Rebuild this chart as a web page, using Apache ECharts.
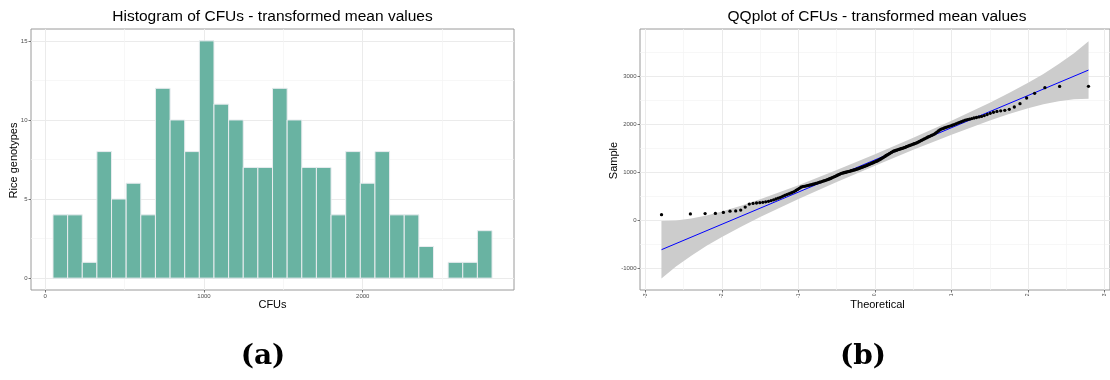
<!DOCTYPE html>
<html>
<head>
<meta charset="utf-8">
<script src="https://cdn.jsdelivr.net/npm/echarts@6/dist/echarts.min.js"></script>
<style>
  html, body { margin: 0; padding: 0; background: #ffffff; }
  #chart { width: 1110px; height: 380px; }
</style>
</head>
<body>
<div id="chart"></div>
<script>
// ---------- Histogram of transformed mean CFU values (30 equal-width bins) ----------
const histBinStart = 48.6;
const histBinWidth = 92.2;
const histCounts = [4, 4, 1, 8, 5, 6, 4, 12, 10, 8, 15, 11, 10, 7, 7, 12, 10, 7, 7, 4, 8, 6, 8, 4, 4, 2, 0, 1, 1, 3];
const histXTicks = [0, 1000, 2000];
const histXMinor = [500, 1500, 2500];
const histYTicks = [0, 5, 10, 15];
const histYMinor = [2.5, 7.5, 12.5];

// ---------- QQ plot: sorted sample of the same 189 genotypes ----------
const sampleValues = [
  112, 128, 134, 138,
  158, 184, 190, 208,
  270,
  333, 346, 355, 362, 370, 379, 391, 405,
  421, 438, 456, 473, 494,
  514, 531, 545, 561, 578, 594,
  616, 639, 661, 684,
  697, 703, 709, 717, 724, 731, 738, 746, 755, 763, 771, 781,
  790, 798, 807, 815, 823, 833, 842, 852, 861, 872,
  885, 896, 906, 917, 929, 941, 952, 964,
  974, 979, 986, 992, 997, 1004, 1010, 1015, 1022, 1028, 1033, 1040, 1046, 1052, 1059,
  1067, 1074, 1083, 1091, 1099, 1106, 1115, 1123, 1132, 1140, 1149,
  1160, 1168, 1178, 1187, 1195, 1205, 1214, 1222, 1232, 1241,
  1255, 1267, 1279, 1292, 1304, 1318, 1331,
  1346, 1358, 1372, 1385, 1397, 1411, 1424,
  1436, 1443, 1451, 1457, 1465, 1473, 1480, 1487, 1495, 1502, 1509, 1517,
  1529, 1538, 1546, 1556, 1565, 1573, 1583, 1592, 1601, 1610,
  1622, 1634, 1648, 1661, 1673, 1687, 1700,
  1714, 1727, 1740, 1752, 1766, 1779, 1791,
  1813, 1836, 1858, 1880,
  1898, 1909, 1921, 1932, 1943, 1955, 1966, 1978,
  1992, 2006, 2022, 2037, 2051, 2067,
  2083, 2094, 2105, 2117, 2129, 2140, 2151, 2163,
  2180, 2202, 2226, 2249,
  2266, 2278, 2290, 2311,
  2359, 2428,
  2547,
  2645,
  2763, 2788, 2790
];
// reference line fitted through the quartiles
const qqLineIntercept = 1255;
const qqLineSlope = 672;
// pointwise confidence band around the reference line
const bandT     = [-2.79, -2.6, -2.4, -2.2, -2.0, -1.75, -1.5, -1.0, -0.5, 0, 0.5, 1.0, 1.5, 1.75, 2.0, 2.2, 2.4, 2.6, 2.79];
const bandLower = [-1220, -972, -748, -539, -354, -139, 62, 438, 793, 1135, 1465, 1782, 2078, 2213, 2334, 2417, 2478, 2522, 2530];
const bandUpper = [-20, -12, 32, 93, 176, 297, 432, 728, 1045, 1375, 1717, 2072, 2448, 2649, 2864, 3049, 3258, 3482, 3730];
const qqXTicks = [-3, -2, -1, 0, 1, 2, 3];
const qqXMinor = [-2.5, -1.5, -0.5, 0.5, 1.5, 2.5];
const qqYTicks = [-1000, 0, 1000, 2000, 3000];
const qqYMinor = [-500, 500, 1500, 2500, 3500];

// Inverse standard normal CDF (Acklam's rational approximation)
function qnorm(p) {
  const a = [-3.969683028665376e+01, 2.209460984245205e+02, -2.759285104469687e+02, 1.383577518672690e+02, -3.066479806614716e+01, 2.506628277459239e+00];
  const b = [-5.447609879822406e+01, 1.615858368580409e+02, -1.556989798598866e+02, 6.680131188771972e+01, -1.328068155288572e+01];
  const c = [-7.784894002430293e-03, -3.223964580411365e-01, -2.400758277161838e+00, -2.549732539343734e+00, 4.374664141464968e+00, 2.938163982698783e+00];
  const d = [7.784695709041462e-03, 3.224671290700398e-01, 2.445134137142996e+00, 3.754408661907416e+00];
  const pl = 0.02425;
  let q, r;
  if (p < pl) {
    q = Math.sqrt(-2 * Math.log(p));
    return (((((c[0] * q + c[1]) * q + c[2]) * q + c[3]) * q + c[4]) * q + c[5]) /
           ((((d[0] * q + d[1]) * q + d[2]) * q + d[3]) * q + 1);
  }
  if (p > 1 - pl) {
    q = Math.sqrt(-2 * Math.log(1 - p));
    return -(((((c[0] * q + c[1]) * q + c[2]) * q + c[3]) * q + c[4]) * q + c[5]) /
            ((((d[0] * q + d[1]) * q + d[2]) * q + d[3]) * q + 1);
  }
  q = p - 0.5; r = q * q;
  return (((((a[0] * r + a[1]) * r + a[2]) * r + a[3]) * r + a[4]) * r + a[5]) * q /
         (((((b[0] * r + b[1]) * r + b[2]) * r + b[3]) * r + b[4]) * r + 1);
}

const n = sampleValues.length;
const qqPoints = sampleValues.map((v, i) => [qnorm((i + 0.5) / n), v]);
const tFirst = qqPoints[0][0];
const tLast = qqPoints[n - 1][0];
const qqLineData = [
  [tFirst, qqLineIntercept + qqLineSlope * tFirst],
  [tLast, qqLineIntercept + qqLineSlope * tLast]
];
const histData = histCounts.map((c, k) => [histBinStart + k * histBinWidth, histBinStart + (k + 1) * histBinWidth, c]);

const SANS = 'Liberation Sans, Arial, sans-serif';
const GRID_MAJOR = '#ebebeb';
const GRID_MINOR = '#f4f4f4';
const TICK_LABEL = { fontSize: 6, color: '#4d4d4d', fontFamily: SANS, formatter: v => String(v) };

function majorAxis(gridIndex, min, max, ticks, labelExtra) {
  return {
    type: 'value', gridIndex, min, max,
    axisLine: { show: false, onZero: false },
    axisTick: { show: true, customValues: ticks, length: 2.5, lineStyle: { color: '#555', width: 0.8 } },
    axisLabel: Object.assign({ customValues: ticks, margin: 3.5 }, TICK_LABEL, labelExtra || {}),
    splitLine: { show: true, lineStyle: { color: GRID_MAJOR, width: 1 } }
  };
}
function minorAxis(gridIndex, min, max, ticks) {
  return {
    type: 'value', gridIndex, min, max,
    axisLine: { show: false, onZero: false },
    axisTick: { show: false, customValues: ticks },
    axisLabel: { show: false, customValues: ticks },
    splitLine: { show: true, lineStyle: { color: GRID_MINOR, width: 0.7 } }
  };
}

const chart = echarts.init(document.getElementById('chart'), null, { renderer: 'canvas' });

chart.setOption({
  animation: false,
  backgroundColor: '#ffffff',
  grid: [
    { left: 31, top: 29, width: 483, height: 261, show: true, borderColor: '#9a9a9a', borderWidth: 1, backgroundColor: 'transparent' },
    { left: 640, top: 29, width: 473, height: 261, show: true, borderColor: '#9a9a9a', borderWidth: 1, backgroundColor: 'transparent' }
  ],
  xAxis: [
    Object.assign(majorAxis(0, -90, 2953, histXTicks), { position: 'bottom' }),
    Object.assign(minorAxis(0, -90, 2953, histXMinor), { position: 'top' }),
    Object.assign(majorAxis(1, -3.07, 3.07, qqXTicks, { rotate: 90, fontSize: 5 }), { position: 'bottom' }),
    Object.assign(minorAxis(1, -3.07, 3.07, qqXMinor), { position: 'top' })
  ],
  yAxis: [
    Object.assign(majorAxis(0, -0.75, 15.75, histYTicks), { position: 'left' }),
    Object.assign(minorAxis(0, -0.75, 15.75, histYMinor), { position: 'right' }),
    Object.assign(majorAxis(1, -1461, 3987, qqYTicks), { position: 'left' }),
    Object.assign(minorAxis(1, -1461, 3987, qqYMinor), { position: 'right' })
  ],
  series: [
    {
      type: 'custom',
      name: 'CFUs histogram',
      xAxisIndex: 0, yAxisIndex: 0,
      data: histData,
      encode: { x: [0, 1], y: 2 },
      renderItem: function (params, api) {
        if (api.value(2) <= 0) return null;
        const p0 = api.coord([api.value(0), api.value(2)]);
        const p1 = api.coord([api.value(1), 0]);
        return {
          type: 'rect',
          shape: { x: p0[0], y: p0[1], width: p1[0] - p0[0], height: p1[1] - p0[1] },
          style: { fill: '#69b3a2', stroke: '#e9ecef', lineWidth: 1 }
        };
      }
    },
    {
      type: 'custom',
      name: 'confidence band',
      xAxisIndex: 2, yAxisIndex: 2,
      data: [[0, bandLower[0]]],
      z: 1,
      renderItem: function (params, api) {
        const pts = [];
        for (let i = 0; i < bandT.length; i++) pts.push(api.coord([bandT[i], bandUpper[i]]));
        for (let i = bandT.length - 1; i >= 0; i--) pts.push(api.coord([bandT[i], bandLower[i]]));
        return { type: 'polygon', shape: { points: pts }, style: { fill: '#cccccc' } };
      }
    },
    {
      type: 'line',
      name: 'reference line',
      xAxisIndex: 2, yAxisIndex: 2,
      data: qqLineData,
      symbol: 'none',
      z: 2,
      lineStyle: { color: '#0000ff', width: 1 }
    },
    {
      type: 'scatter',
      name: 'sample quantiles',
      xAxisIndex: 2, yAxisIndex: 2,
      data: qqPoints,
      symbolSize: 3.3,
      z: 3,
      itemStyle: { color: '#000000', opacity: 1 }
    }
  ],
  graphic: [
    { type: 'text', x: 272.5, y: 16.5, style: { text: 'Histogram of CFUs - transformed mean values', font: '15.5px ' + SANS, fill: '#000', textAlign: 'center', textVerticalAlign: 'middle' } },
    { type: 'text', x: 877, y: 16.5, style: { text: 'QQplot of CFUs - transformed mean values', font: '15.5px ' + SANS, fill: '#000', textAlign: 'center', textVerticalAlign: 'middle' } },
    { type: 'text', x: 14, y: 160.5, rotation: Math.PI / 2, style: { text: 'Rice genotypes', font: '11px ' + SANS, fill: '#000', textAlign: 'center', textVerticalAlign: 'middle' } },
    { type: 'text', x: 272.5, y: 305, style: { text: 'CFUs', font: '11px ' + SANS, fill: '#000', textAlign: 'center', textVerticalAlign: 'middle' } },
    { type: 'text', x: 613.5, y: 160.5, rotation: Math.PI / 2, style: { text: 'Sample', font: '11px ' + SANS, fill: '#000', textAlign: 'center', textVerticalAlign: 'middle' } },
    { type: 'text', x: 877.5, y: 305, style: { text: 'Theoretical', font: '11px ' + SANS, fill: '#000', textAlign: 'center', textVerticalAlign: 'middle' } },
    { type: 'text', x: 263, y: 357, style: { text: '(a)', font: 'bold 28px DejaVu Serif, serif', fill: '#000', textAlign: 'center', textVerticalAlign: 'middle' } },
    { type: 'text', x: 863, y: 357, style: { text: '(b)', font: 'bold 28px DejaVu Serif, serif', fill: '#000', textAlign: 'center', textVerticalAlign: 'middle' } }
  ]
});
</script>
</body>
</html>
